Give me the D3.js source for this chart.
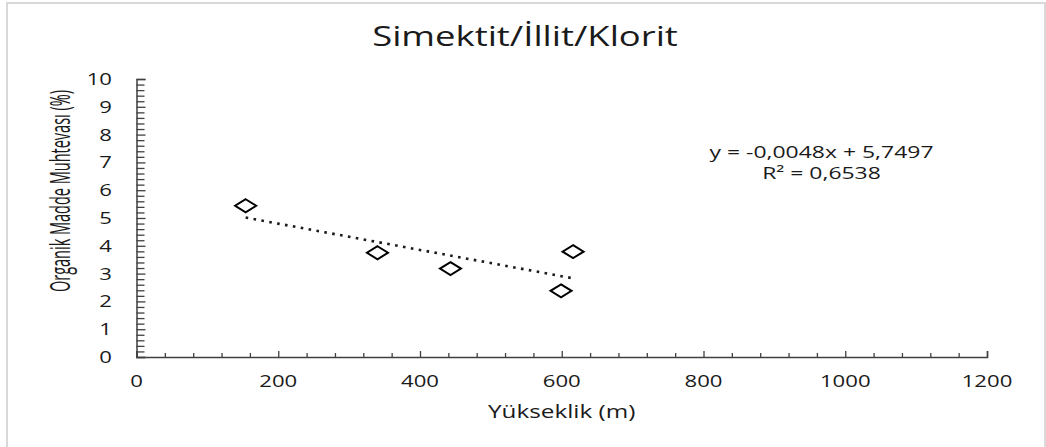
<!DOCTYPE html>
<html>
<head>
<meta charset="utf-8">
<script src="https://cdn.jsdelivr.net/npm/d3@7"></script>
<style>
    body { margin: 0; background: #fff; }
    svg { display: block; }
    text { font-family: "Open Sans", sans-serif; fill: #1a1a1a; }
</style>
</head>
<body>
<svg id="chart" width="1046" height="447"></svg>
<script>

//  data
const elevations = [154, 340, 443, 599, 616];         //  Yükseklik (m)
const organicMatter = [5.44, 3.75, 3.18, 2.38, 3.79];  //  Organik Madde Muhtevası (%)

const xTicks = [0, 200, 400, 600, 800, 1000, 1200];
const yTicks = [0, 1, 2, 3, 4, 5, 6, 7, 8, 9, 10];

const titleText = "Simektit/İllit/Klorit";
const xTitle = "Yükseklik (m)";
const yTitle = "Organik Madde Muhtevası (%)";
const equationLines = ["y = -0,0048x + 5,7497", "R² = 0,6538"];

//  the picture is stretched sideways, so the text is too
const STRETCH = 1.35;

const chartView = {

    svg: null,
    x: null,
    y: null,

    initialize: function (iSVG) {
        this.svg = iSVG;
        this.x = d3.scaleLinear().domain([0, 1200]).range([136.5, 987]);
        this.y = d3.scaleLinear().domain([0, 10]).range([357, 79]);
    },

    /**
     * put a text at (x, y), widened by a sideways stretch. rot = -90 for the vertical title.
     */
    addText: function (iText, x, y, size, anchor, rot = 0, stretch = STRETCH) {
        return this.svg.append("text")
            .attr("transform", `translate(${x},${y}) scale(${stretch},1) rotate(${rot})`)
            .attr("text-anchor", anchor)
            .attr("font-size", size)
            .text(iText);
    },

    drawFrame: function () {
        this.svg.append("rect")
            .attr("x", 7).attr("y", 3)
            .attr("width", 1038).attr("height", 470)
            .attr("fill", "none")
            .attr("stroke", "#d9d9d9")
            .attr("stroke-width", 2);
    },

    drawAxes: function () {
        const x = this.x, y = this.y;

        //  minor ticks, every 40 m and every 0.2 %
        const xMinor = d3.range(0, 1201, 40).filter(v => v % 200 !== 0);
        const yMinor = d3.range(0, 50).map(v => v / 5).filter(v => !Number.isInteger(v));

        const xAxis = this.svg.append("g")
            .attr("transform", `translate(0,${y(0)})`)
            .call(d3.axisTop(x).tickValues(xTicks).tickSize(6).tickFormat(""));
        xAxis.append("g")
            .call(d3.axisTop(x).tickValues(xMinor).tickSize(4).tickFormat(""))
            .select(".domain").remove();

        const yAxis = this.svg.append("g")
            .attr("transform", `translate(${x(0)},0)`)
            .call(d3.axisRight(y).tickValues(yTicks).tickSize(9).tickFormat(""));
        yAxis.append("g")
            .call(d3.axisRight(y).tickValues(yMinor).tickSize(8).tickFormat(""))
            .select(".domain").remove();

        this.svg.selectAll(".domain")
            .attr("stroke", "#404040")
            .attr("stroke-width", 1.5);
        this.svg.selectAll(".tick line")
            .attr("stroke", "#404040")
            .attr("stroke-width", 1.3);

        //  tick labels
        xTicks.forEach(v => this.addText(String(v), x(v), 386.5, 16.4, "middle"));
        yTicks.forEach(v => this.addText(String(v), 112, y(v) + 6, 16.4, "end"));
    },

    drawPoints: function () {
        const pts = elevations.map((e, i) => ({x: e, y: organicMatter[i]}));

        //  least squares line, drawn over the range of the data
        const mx = d3.mean(elevations), my = d3.mean(organicMatter);
        const slope = d3.sum(pts, d => (d.x - mx) * (d.y - my)) / d3.sum(pts, d => (d.x - mx) ** 2);
        const intercept = my - slope * mx;
        const ends = d3.extent(elevations).map(v => ({x: v, y: intercept + slope * v}));

        const line = d3.line().x(d => this.x(d.x)).y(d => this.y(d.y));
        this.svg.append("path")
            .attr("d", line(ends))
            .attr("fill", "none")
            .attr("stroke", "#1a1a1a")
            .attr("stroke-width", 2.6)
            .attr("stroke-dasharray", "2.6,5.4");

        //  diamonds, wide because of the stretch
        const w = 10.5, h = 6.5;
        this.svg.selectAll("path.marker")
            .data(pts)
            .join("path")
            .attr("class", "marker")
            .attr("d", d => {
                const cx = this.x(d.x), cy = this.y(d.y);
                let path = d3.path();
                path.moveTo(cx, cy - h);
                path.lineTo(cx + w, cy);
                path.lineTo(cx, cy + h);
                path.lineTo(cx - w, cy);
                path.closePath();
                return path.toString();
            })
            .attr("fill", "#fff")
            .attr("stroke", "#000")
            .attr("stroke-width", 2);
    },

    drawLabels: function () {
        this.addText(titleText, 525, 46, 27, "middle");
        this.addText(xTitle, 561.7, 418.3, 18, "middle");
        //  the vertical title's glyph height lies along x, so it gets widened more
        this.addText(yTitle, 70, 191, 14.5, "middle", -90, 1.85);
        this.addText(equationLines[0], 821.5, 157.5, 17, "middle");
        this.addText(equationLines[1], 821.5, 179, 17, "middle");
    },

    redraw: function () {
        this.drawFrame();
        this.drawAxes();
        this.drawPoints();
        this.drawLabels();
    }
};

chartView.initialize(d3.select("#chart"));
chartView.redraw();

</script>
</body>
</html>
